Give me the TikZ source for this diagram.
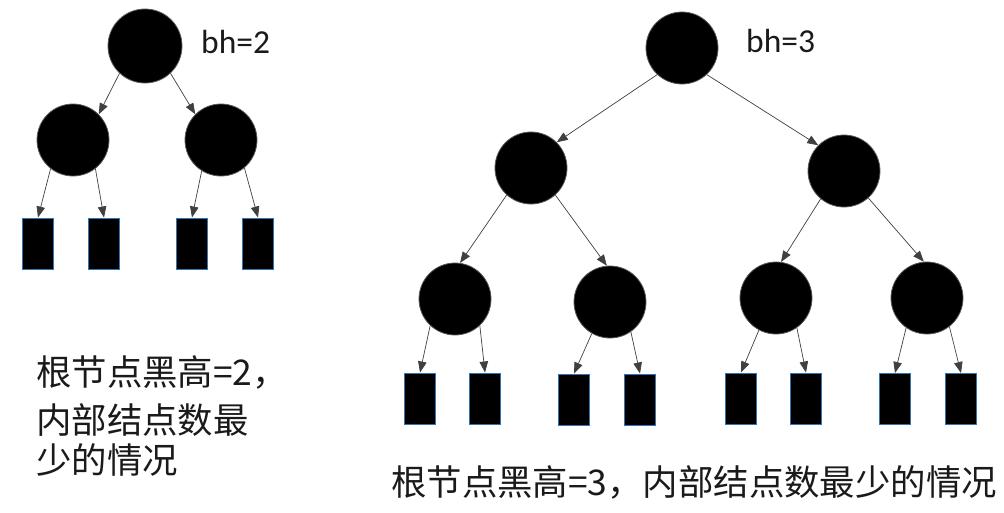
\documentclass[tikz,border=0pt]{standalone}
\usepackage{fontspec}
\setmainfont{Carlito}
\newfontfamily\cjk{Noto Sans CJK SC}
\newfontfamily\calib{Carlito}
\usetikzlibrary{arrows.meta}
\definecolor{leafblue}{HTML}{2E75B6}
\definecolor{edgegray}{HTML}{404040}
\definecolor{txt}{HTML}{1A1A1A}
\tikzset{
  inner/.style={circle, fill=black, draw=black!65, line width=0.8pt, minimum size=72pt, inner sep=0pt},
  leaf/.style={rectangle, fill=black, draw=leafblue, line width=1pt, minimum width=31pt, minimum height=51pt, inner sep=0pt},
  edge/.style={draw=edgegray, line width=0.7pt, -{Triangle[length=11pt,width=8.5pt]}},
  cjktext/.style={anchor=base west, inner sep=0pt, text=txt, font=\cjk\fontsize{35.4pt}{42pt}\selectfont},
  bhtext/.style={anchor=base west, inner sep=0pt, text=txt, font=\calib\fontsize{33.5pt}{40pt}\selectfont}
}
\begin{document}
\begin{tikzpicture}[x=1pt,y=-1pt]
\useasboundingbox[fill=white] (0,0) rectangle (1004,512);

% ---------- left tree ----------
\node[inner, minimum size=74pt] (A) at (145,46) {};
\node[inner] (A1) at (73,140) {};
\node[inner] (A2) at (221,140) {};
\node[leaf] (a1) at (38,243.5) {};
\node[leaf] (a2) at (104,243.5) {};
\node[leaf] (a3) at (192,243.5) {};
\node[leaf] (a4) at (258,243.5) {};
\node[bhtext] (bh2) at (201,53) {bh=2};

\draw[edge] (A.-133) -- (A1.45);
\draw[edge] (A.-47) -- (A2.135);
\draw[edge] (A1.-128) -- (a1.north);
\draw[edge] (A1.-52) -- (a2.north);
\draw[edge] (A2.-122) -- (a3.north);
\draw[edge] (A2.-50) -- (a4.north);

\node[cjktext] (t1) at (36,385) {根节点黑高=2，};
\node[cjktext] (t2) at (36,433) {内部结点数最};
\node[cjktext] (t3) at (36,473) {少的情况};

% ---------- right tree ----------
\node[inner] (B) at (682,48) {};
\node[inner] (B1) at (531,168) {};
\node[inner] (B2) at (844,171) {};
\node[inner] (B11) at (455,299) {};
\node[inner] (B12) at (610,302) {};
\node[inner] (B21) at (776,298) {};
\node[inner] (B22) at (927,298) {};
\node[leaf] (b1) at (420,398.5) {};
\node[leaf] (b2) at (485,398.5) {};
\node[leaf] (b3) at (574,399.5) {};
\node[leaf] (b4) at (640,399.5) {};
\node[leaf] (b5) at (741,398.5) {};
\node[leaf] (b6) at (806,398.5) {};
\node[leaf] (b7) at (895,399) {};
\node[leaf] (b8) at (961,399) {};
\node[bhtext] (bh3) at (746,52) {bh=3};

\draw[edge] (B.-133) -- (B1.45);
\draw[edge] (B.-47) -- (B2.135);
\draw[edge] (B1.-132) -- (B11.82);
\draw[edge] (B1.-48) -- (B12.95);
\draw[edge] (B2.-130) -- (B21.82);
\draw[edge] (B2.-48) -- (B22.95);
\draw[edge] (B11.-133) -- (b1.north);
\draw[edge] (B11.-47) -- (b2.north);
\draw[edge] (B12.-120) -- (b3.north);
\draw[edge] (B12.-55) -- (b4.north);
\draw[edge] (B21.-118) -- (b5.north);
\draw[edge] (B21.-55) -- (b6.north);
\draw[edge] (B22.-125) -- (b7.north);
\draw[edge] (B22.-52) -- (b8.north);

\node[cjktext] (t4) at (391,495) {根节点黑高=3，内部结点数最少的情况};
\end{tikzpicture}
\end{document}
